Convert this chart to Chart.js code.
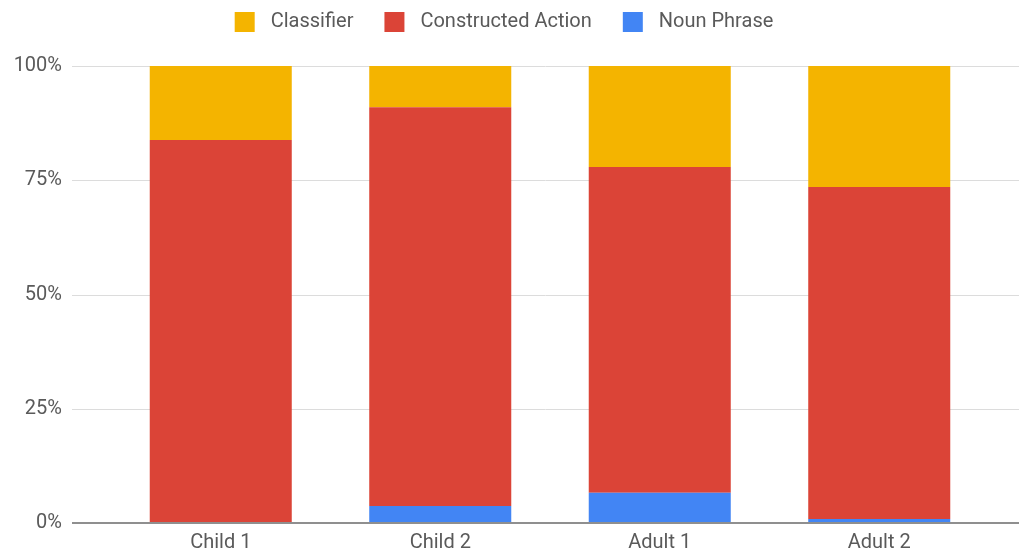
<!DOCTYPE html>
<html>
<head>
<meta charset="utf-8">
<script src="https://cdn.jsdelivr.net/npm/chart.js@4"></script>
<style>
  html, body { margin: 0; padding: 0; background: #ffffff; overflow: hidden; }
  canvas { display: block; }
</style>
</head>
<body>
<canvas id="c" width="1019" height="559"></canvas>
<script>
// ---- Data ----
const categories = ['Child 1', 'Child 2', 'Adult 1', 'Adult 2'];
const classifier = [16.2, 9.0, 22.1, 26.5];
const constructedAction = [83.8, 87.3, 71.3, 72.6];
const nounPhrase = [0, 3.7, 6.6, 0.9];
const yTicks = [0, 25, 50, 75, 100];
const seriesNames = ['Noun Phrase', 'Constructed Action', 'Classifier'];
const seriesColors = ['#4285F4', '#DB4437', '#F4B400'];

// legend swatch: 19px blank lead-in, 20x20 colour square, 6px blank tail
function swatch(color) {
  const c = document.createElement('canvas');
  c.width = 45; c.height = 20;
  const g = c.getContext('2d');
  g.fillStyle = color;
  g.fillRect(19, 0, 20, 20);
  return c;
}

const gridPlugin = {
  id: 'fullGrid',
  beforeDatasetsDraw(chart) {
    const y = chart.scales.y;
    const ctx = chart.ctx;
    ctx.save();
    ctx.strokeStyle = '#dcdcdc';
    ctx.lineWidth = 1;
    yTicks.forEach(v => {
      if (v === 0) return;
      const py = Math.round(y.getPixelForValue(v)) + 0.5;
      ctx.beginPath();
      ctx.moveTo(72, py);
      ctx.lineTo(chart.width, py);
      ctx.stroke();
    });
    ctx.restore();
  },
  afterDatasetsDraw(chart) {
    const y = chart.scales.y;
    const ctx = chart.ctx;
    ctx.save();
    ctx.strokeStyle = '#8f8f8f';
    ctx.lineWidth = 2;
    const py = Math.round(y.getPixelForValue(0));
    ctx.beginPath();
    ctx.moveTo(72, py);
    ctx.lineTo(chart.width, py);
    ctx.stroke();
    ctx.restore();
  }
};

const legendSpacer = {
  id: 'legendSpacer',
  beforeInit(chart) {
    const origFit = chart.legend.fit;
    chart.legend.fit = function () {
      origFit.bind(chart.legend)();
      this.height += 24;
    };
  }
};

const font = { family: 'Roboto', size: 20 };
const textColor = '#5a5a5a';

new Chart(document.getElementById('c'), {
  type: 'bar',
  data: {
    labels: categories,
    datasets: [
      { label: seriesNames[0], data: nounPhrase, backgroundColor: seriesColors[0] },
      { label: seriesNames[1], data: constructedAction, backgroundColor: seriesColors[1] },
      { label: seriesNames[2], data: classifier, backgroundColor: seriesColors[2] }
    ]
  },
  options: {
    responsive: false,
    maintainAspectRatio: false,
    animation: false,
    devicePixelRatio: 1,
    layout: { padding: { top: 0, right: 30, bottom: 0, left: 0 } },
    datasets: { bar: { barPercentage: 0.647, categoryPercentage: 1.0 } },
    plugins: {
      tooltip: { enabled: false },
      legend: {
        position: 'top',
        align: 'center',
        reverse: true,
        labels: {
          font: font,
          color: textColor,
          usePointStyle: true,
          pointStyleWidth: 45,
          boxHeight: 20,
          padding: 12,
          generateLabels(chart) {
            const items = Chart.defaults.plugins.legend.labels.generateLabels(chart);
            items.forEach(it => { it.pointStyle = swatch(seriesColors[it.datasetIndex]); });
            return items;
          }
        }
      }
    },
    scales: {
      x: {
        stacked: true,
        grid: { display: false, drawTicks: false },
        border: { display: false },
        ticks: { font: font, color: textColor, padding: 8 },
        afterFit(scale) { scale.height = 36; }
      },
      y: {
        stacked: true,
        min: 0,
        max: 100,
        grid: { display: false, drawTicks: false },
        border: { display: false },
        afterBuildTicks(scale) { scale.ticks = yTicks.map(v => ({ value: v })); },
        ticks: {
          font: font,
          color: textColor,
          padding: 49,
          callback: v => v + '%'
        },
        afterFit(scale) {
          scale.width = 111;
          scale.paddingTop = 12;
          scale.paddingBottom = 12;
        }
      }
    }
  },
  plugins: [gridPlugin, legendSpacer]
});
</script>
</body>
</html>
